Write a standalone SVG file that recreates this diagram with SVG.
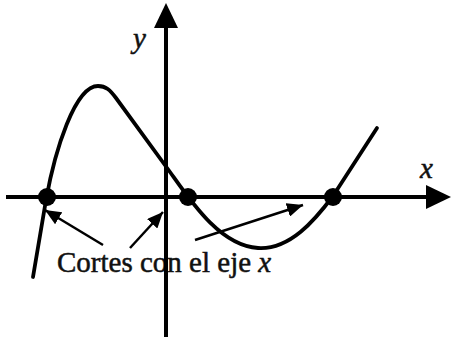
<svg xmlns="http://www.w3.org/2000/svg" width="452" height="343" viewBox="0 0 452 343">
  <style>
    .axis { stroke: #000; stroke-width: 4; fill: none; }
    .curve { stroke: #000; stroke-width: 3.8; fill: none; stroke-linecap: round; stroke-linejoin: round; }
    .conn { stroke: #000; stroke-width: 2.5; fill: none; }
    .dot { fill: #000; }
    .lbl { font-family: "Liberation Serif", "Times New Roman", serif; font-size: 29px; fill: #111; stroke: #111; stroke-width: 0.5; }
    .it { font-style: italic; }
  </style>
  <defs>
    <marker id="ah" markerUnits="userSpaceOnUse" markerWidth="18" markerHeight="14" refX="16" refY="7" orient="auto">
      <path d="M0,0 L16,7 L0,14 Z" fill="#000"/>
    </marker>
  </defs>
  <rect width="452" height="343" fill="#fff"/>

  <g id="label">
    <text class="lbl" x="57" y="272">Cortes con el eje <tspan class="it">x</tspan></text>
  </g>

  <g id="axes">
    <line class="axis" x1="6" y1="197" x2="430" y2="197"/>
    <polygon points="426,185 451,197 426,209" fill="#000"/>
    <line class="axis" x1="166" y1="24" x2="166" y2="337"/>
    <polygon points="154,28 166,3 178,28" fill="#000"/>
    <text class="lbl it" x="420" y="178">x</text>
    <text class="lbl it" x="133" y="48" font-size="30">y</text>
  </g>

  <g id="curve">
    <path class="curve" d="M33,277 L46,200 C55,150 75,86 98,86 C106,86 110,90 116,98 L170,172 C190,200 220,246 258,248 C290,250 315,220 333,196 L377,128"/>
  </g>

  <g id="points">
    <circle id="p1" class="dot" cx="47" cy="197" r="9"/>
    <circle id="p2" class="dot" cx="188" cy="197" r="9"/>
    <circle id="p3" class="dot" cx="333" cy="197" r="9"/>
  </g>

  <g id="connectors">
    <line class="conn" x1="103" y1="245" x2="45" y2="210" marker-end="url(#ah)"/>
    <line class="conn" x1="130" y1="248" x2="163" y2="212" marker-end="url(#ah)"/>
    <line class="conn" x1="195" y1="240" x2="303" y2="205" marker-end="url(#ah)"/>
  </g>
</svg>
